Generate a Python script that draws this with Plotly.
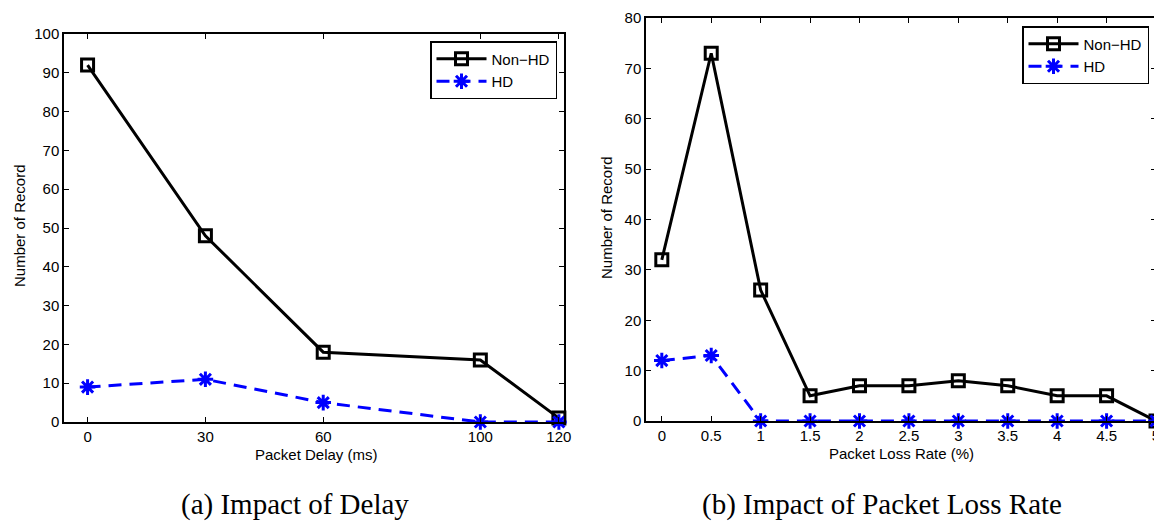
import plotly.graph_objects as go

# Data
delay_x = [0, 30, 60, 100, 120]
delay_nonhd = [92, 48, 18, 16, 1]
delay_hd = [9, 11, 5, 0, 0]

loss_x = [0, 0.5, 1, 1.5, 2, 2.5, 3, 3.5, 4, 4.5, 5]
loss_nonhd = [32, 73, 26, 5, 7, 7, 8, 7, 5, 5, 0]
loss_hd = [12, 13, 0, 0, 0, 0, 0, 0, 0, 0, 0]

loss_ticks = [0, 0.5, 1, 1.5, 2, 2.5, 3, 3.5, 4, 4.5, 5]
loss_ticklabels = ["0", "0.5", "1", "1.5", "2", "2.5", "3", "3.5", "4", "4.5", "5"]

# page has an 8px body margin; the figure is sized to fill the rest of the window
OFF = 8
W, H = 1162 - OFF, 521 - OFF


def fx(px):
    return (px - OFF) / W


def fy(py):
    return (H - (py - OFF)) / H


fig = go.Figure()

nonhd_line = dict(color="black", width=3)
nonhd_marker = dict(symbol="square-open", size=12, color="black", line=dict(width=3, color="black"))
hd_line = dict(color="#0000ff", width=3, dash="13px,8px")
hd_marker = dict(symbol="asterisk-open", size=13, color="#0000ff", line=dict(width=3, color="#0000ff"))

fig.add_trace(go.Scatter(x=delay_x, y=delay_nonhd, mode="lines+markers", name="Non\u2212HD",
                         line=nonhd_line, marker=nonhd_marker, xaxis="x", yaxis="y",
                         legend="legend", cliponaxis=False))
fig.add_trace(go.Scatter(x=delay_x, y=delay_hd, mode="lines+markers", name="HD",
                         line=hd_line, marker=hd_marker, xaxis="x", yaxis="y",
                         legend="legend", cliponaxis=False))
fig.add_trace(go.Scatter(x=loss_x, y=loss_nonhd, mode="lines+markers", name="Non\u2212HD",
                         line=nonhd_line, marker=nonhd_marker, xaxis="x2", yaxis="y2",
                         legend="legend2", cliponaxis=False))
fig.add_trace(go.Scatter(x=loss_x, y=loss_hd, mode="lines+markers", name="HD",
                         line=hd_line, marker=hd_marker, xaxis="x2", yaxis="y2",
                         legend="legend2", cliponaxis=False))

tickfont = dict(family="Liberation Sans, Arial", size=15, color="black")
axcommon = dict(showline=True, linecolor="black", linewidth=1.5, mirror="ticks",
                ticks="inside", ticklen=5, tickcolor="black", tickwidth=1,
                showgrid=False, zeroline=False, tickfont=tickfont, automargin=False,
                ticklabeloverflow="allow")

legend_common = dict(xanchor="right", yanchor="top", bgcolor="white", bordercolor="black",
                     borderwidth=1.5, font=dict(family="Liberation Sans, Arial", size=15),
                     tracegroupgap=0, itemwidth=50)

fig.update_layout(
    width=W, height=H,
    margin=dict(l=0, r=0, t=0, b=0, autoexpand=False),
    paper_bgcolor="white", plot_bgcolor="white",
    font=dict(family="Liberation Sans, Arial", color="black"),
    xaxis=dict(domain=[fx(64), fx(564)], range=[-6, 121.3], tickvals=delay_x,
               anchor="y", **axcommon),
    yaxis=dict(domain=[fy(422), fy(34)], range=[0, 100], dtick=10,
               anchor="x", **axcommon),
    xaxis2=dict(domain=[fx(646), fx(1156)], range=[-0.16, 5.0], tickvals=loss_ticks,
                ticktext=loss_ticklabels, anchor="y2", **axcommon),
    yaxis2=dict(domain=[fy(421), fy(18)], range=[0, 80], dtick=10,
                anchor="x2", **axcommon),
    legend=dict(x=fx(557), y=fy(41), **legend_common),
    legend2=dict(x=fx(1149), y=fy(26), **legend_common),
    showlegend=True,
)

label_font = dict(family="Liberation Sans, Arial", size=15, color="black")
fig.add_annotation(text="Packet Delay (ms)", x=fx(316), y=fy(454), xref="paper", yref="paper",
                   showarrow=False, font=label_font, xanchor="center", yanchor="middle")
fig.add_annotation(text="Packet Loss Rate (%)", x=fx(901), y=fy(453), xref="paper", yref="paper",
                   showarrow=False, font=label_font, xanchor="center", yanchor="middle")
fig.add_annotation(text="Number of Record", x=fx(19), y=fy(226), xref="paper", yref="paper",
                   showarrow=False, font=label_font, xanchor="center", yanchor="middle", textangle=-90)
fig.add_annotation(text="Number of Record", x=fx(606), y=fy(218), xref="paper", yref="paper",
                   showarrow=False, font=label_font, xanchor="center", yanchor="middle", textangle=-90)

caption_font = dict(family="Liberation Serif, Times New Roman", size=29, color="black")
fig.add_annotation(text="(a) Impact of Delay", x=fx(295), y=fy(504), xref="paper", yref="paper",
                   showarrow=False, font=caption_font, xanchor="center", yanchor="middle")
fig.add_annotation(text="(b) Impact of Packet Loss Rate", x=fx(882), y=fy(504), xref="paper",
                   yref="paper", showarrow=False, font=caption_font, xanchor="center", yanchor="middle")

fig.write_html("out.html")
